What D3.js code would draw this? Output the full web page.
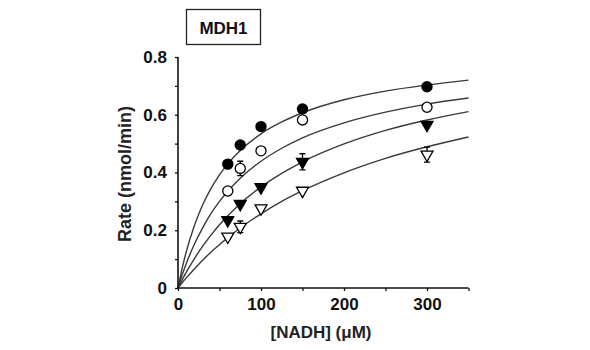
<!DOCTYPE html>
<html><head><meta charset="utf-8">
<script src="https://cdn.jsdelivr.net/npm/d3@7"></script>
<style>
body{margin:0;background:#fff;}
text{font-family:"Liberation Sans",Arial,sans-serif;}
</style></head>
<body><svg id="c" width="590" height="350"></svg>
<script>
// Data
const conc = [60, 75, 100, 150, 300];
const filledCircle = [0.429, 0.495, 0.559, 0.620, 0.697];
const openCircle   = [0.336, 0.414, 0.475, 0.582, 0.626];
const filledTri    = [0.235, 0.291, 0.349, 0.437, 0.565];
const openTri      = [0.178, 0.212, 0.276, 0.337, 0.462];
const filledCircleErr = [0, 0, 0, 0, 0];
const openCircleErr   = [0, 0.025, 0, 0, 0];
const filledTriErr    = [0, 0, 0, 0.028, 0];
const openTriErr      = [0, 0.02, 0, 0, 0.026];
// fitted curves
const curveX = [0, 5, 10, 20, 30, 40, 50, 60, 75, 100, 125, 150, 200, 250, 300, 350];
const curveA = [0, 0.068, 0.126, 0.218, 0.290, 0.346, 0.392, 0.430, 0.476, 0.534, 0.575, 0.607, 0.652, 0.682, 0.703, 0.720];
const curveB = [0, 0.045, 0.085, 0.153, 0.210, 0.259, 0.300, 0.335, 0.380, 0.439, 0.484, 0.520, 0.572, 0.609, 0.637, 0.658];
const curveC = [0, 0.028, 0.055, 0.103, 0.146, 0.184, 0.219, 0.250, 0.292, 0.350, 0.397, 0.437, 0.499, 0.546, 0.582, 0.611];
const curveD = [0, 0.018, 0.035, 0.067, 0.097, 0.125, 0.150, 0.175, 0.208, 0.257, 0.300, 0.337, 0.399, 0.449, 0.489, 0.523];
const xTicks = [0, 50, 100, 150, 200, 250, 300, 350];
const xLabels = [0, 100, 200, 300];
const yTicks = [0, 0.1, 0.2, 0.3, 0.4, 0.5, 0.6, 0.7, 0.8];
const yLabels = [0, 0.2, 0.4, 0.6, 0.8];
const title = "MDH1";
const xTitle = "[NADH] (μM)";
const yTitle = "Rate (nmol/min)";

const svg = d3.select("#c");
const x = d3.scaleLinear().domain([0, 350]).range([178, 468.5]);
const y = d3.scaleLinear().domain([0, 0.8]).range([288, 57]);

// curves
const line = d3.line().x(d => x(d[0])).y(d => y(d[1])).curve(d3.curveMonotoneX);
[curveA, curveB, curveC, curveD].forEach(c => {
  svg.append("path").datum(curveX.map((v, i) => [v, c[i]]))
    .attr("d", line).attr("fill", "none").attr("stroke", "#3a3a3a").attr("stroke-width", 1.4);
});

// axes
const fmt = d => d === 0 ? "0" : d3.format(".1f")(d);
const xAxis = svg.append("g").attr("transform", `translate(0,${y(0)})`)
  .call(d3.axisBottom(x).tickValues(xTicks).tickSize(3).tickFormat(d => xLabels.includes(d) ? String(d) : ""));
const yAxis = svg.append("g").attr("transform", `translate(${x(0)},0)`)
  .call(d3.axisLeft(y).tickValues(yTicks).tickSize(3).tickFormat(d => yLabels.some(v => Math.abs(v - d) < 1e-9) ? fmt(d) : ""));
[xAxis, yAxis].forEach(g => {
  g.select(".domain").attr("stroke", "#111").attr("stroke-width", 1.6);
  g.selectAll(".tick line").attr("stroke", "#111").attr("stroke-width", 1.3);
  g.selectAll("text").attr("font-family", "Liberation Sans, Arial, sans-serif")
    .attr("font-size", 17).attr("font-weight", "bold").attr("fill", "#111");
});
xAxis.selectAll(".domain").attr("d", `M${x(0)},0H${x(350)}`);
yAxis.selectAll(".domain").attr("d", `M0,${y(0)}V${y(0.8)}`);
xAxis.selectAll("text").attr("y", 10);
yAxis.selectAll("text").attr("x", -11);

// axis titles
svg.append("text").attr("x", 321).attr("y", 338).attr("text-anchor", "middle")
  .attr("font-size", 17).attr("font-weight", "bold").attr("fill", "#222").text(xTitle);
svg.append("text").attr("transform", "translate(131,174) rotate(-90)").attr("text-anchor", "middle")
  .attr("font-size", 18).attr("font-weight", "bold").attr("fill", "#222").text(yTitle);

// title box
svg.append("rect").attr("x", 186.5).attr("y", 9.5).attr("width", 74).attr("height", 35)
  .attr("fill", "#fff").attr("stroke", "#222").attr("stroke-width", 1.3);
svg.append("text").attr("x", 223.5).attr("y", 34).attr("text-anchor", "middle")
  .attr("font-size", 17).attr("font-weight", "bold").attr("fill", "#111").text(title);

// series
const series = [
  {v: filledCircle, e: filledCircleErr, sym: d3.symbolCircle, size: 80, fill: "#000", rot: 0},
  {v: openCircle, e: openCircleErr, sym: d3.symbolCircle, size: 80, fill: "#fff", rot: 0},
  {v: filledTri, e: filledTriErr, sym: d3.symbolTriangle, size: 62, fill: "#000", rot: 180},
  {v: openTri, e: openTriErr, sym: d3.symbolTriangle, size: 62, fill: "#fff", rot: 180}
];
series.forEach(s => {
  const g = svg.append("g");
  conc.forEach((c, i) => {
    if (s.e[i] > 0) {
      const cx = x(c), y1 = y(s.v[i] - s.e[i]), y2 = y(s.v[i] + s.e[i]);
      g.append("path").attr("d", `M${cx},${y1}V${y2}M${cx-3},${y1}H${cx+3}M${cx-3},${y2}H${cx+3}`)
        .attr("stroke", "#000").attr("stroke-width", 1.3).attr("fill", "none");
    }
  });
  conc.forEach((c, i) => {
    g.append("path").attr("d", d3.symbol().type(s.sym).size(s.size)())
      .attr("transform", `translate(${x(c)},${y(s.v[i])}) rotate(${s.rot})`)
      .attr("fill", s.fill).attr("stroke", "#000").attr("stroke-width", 1.3);
  });
});
</script></body></html>
